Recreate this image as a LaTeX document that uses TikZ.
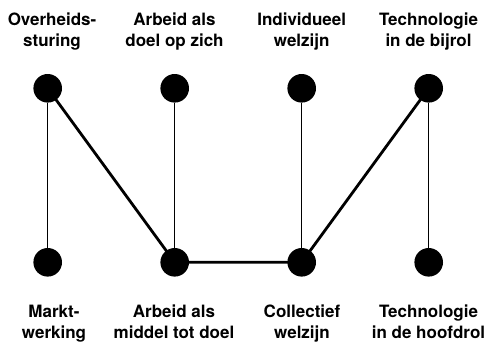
\documentclass[tikz,border=0pt]{standalone}
\usepackage{fontspec}
\setmainfont{TeX Gyre Heros}
\begin{document}
\begin{tikzpicture}[x=1pt,y=-1pt,
  dot/.style={circle,fill=black,inner sep=0pt,minimum size=28.6pt},
  thin link/.style={line width=0.9pt},
  thick link/.style={line width=2.8pt},
  label text/.style={font=\fontsize{17}{21}\selectfont\bfseries,align=center,inner sep=0pt,anchor=base}]
  \fill[white] (0,0) rectangle (487,343);
  \useasboundingbox (0,0) rectangle (487,343);

  % top and bottom rows of dots
  \foreach \i/\x in {1/47.7,2/174.7,3/301.7,4/428.7}{
    \node[dot] (t\i) at (\x,88.3) {};
    \node[dot] (b\i) at (\x,262.3) {};
  }

  % thin verticals behind the thick path
  \foreach \i in {1,2,3,4}{
    \draw[thin link] (t\i) -- (b\i);
  }
  \draw[thick link] (t1.center) -- (b2.center) -- (b3.center) -- (t4.center);

  % labels (anchored at the baseline of their last line)
  \node[label text] (lt1) at (52,46) {Overheids-\\sturing};
  \node[label text] (lt2) at (174.5,46) {Arbeid als\\doel op zich};
  \node[label text] (lt3) at (301.7,46) {Individueel\\welzijn};
  \node[label text] (lt4) at (428.5,46) {Technologie\\in de bijrol};

  \node[label text] (lb1) at (54,338.6) {Markt-\\werking};
  \node[label text] (lb2) at (174,338.6) {Arbeid als\\middel tot doel};
  \node[label text] (lb3) at (302,338.6) {Collectief\\welzijn};
  \node[label text] (lb4) at (428.5,338.6) {Technologie\\in de hoofdrol};
\end{tikzpicture}
\end{document}
